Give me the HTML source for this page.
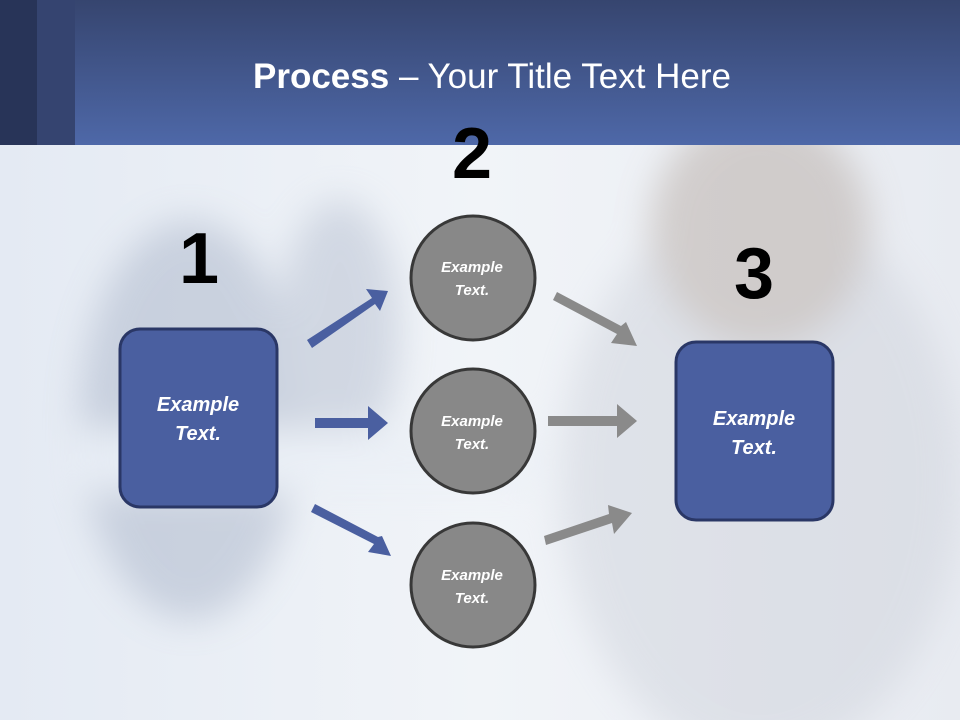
<!DOCTYPE html>
<html><head><style>
body{margin:0;width:960px;height:720px;overflow:hidden;font-family:"Liberation Sans",sans-serif}
</style></head><body>
<svg width="960" height="720" xmlns="http://www.w3.org/2000/svg">
<defs>
<linearGradient id="hd" x1="0" y1="0" x2="0" y2="1"><stop offset="0" stop-color="#36456f"/><stop offset="1" stop-color="#4e68a8"/></linearGradient>
<linearGradient id="bg" x1="0" y1="0" x2="1" y2="0"><stop offset="0" stop-color="#e4eaf3"/><stop offset="0.5" stop-color="#f1f4f8"/><stop offset="1" stop-color="#e8ebf1"/></linearGradient>
<filter id="bl"><feGaussianBlur stdDeviation="18"/></filter>
</defs>
<rect width="960" height="720" fill="url(#bg)"/>
<g filter="url(#bl)" opacity="0.4">
<ellipse cx="190" cy="420" rx="110" ry="200" fill="#9aa6bd"/>
<ellipse cx="340" cy="330" rx="60" ry="130" fill="#a8b2c6"/>
<ellipse cx="760" cy="480" rx="200" ry="280" fill="#c8ccd6"/>
<ellipse cx="760" cy="230" rx="110" ry="120" fill="#a89a90"/>
<rect x="80" y="430" width="460" height="60" fill="#e8eef6"/>
</g>
<rect width="960" height="145" fill="url(#hd)"/>
<rect width="37" height="145" fill="#283458"/>
<rect x="37" width="38" height="145" fill="#354470"/>
<text x="492" y="88" text-anchor="middle" font-size="35" fill="#fff"><tspan font-weight="bold">Process</tspan> – Your Title Text Here</text>
<g font-size="72" font-weight="bold" fill="#000" text-anchor="middle">
<text x="472" y="178">2</text><text x="199" y="283">1</text><text x="754" y="298">3</text>
</g>
<g fill="#4a5fa0">
<polygon points="307,340 372,298 366,289 388,291 380,311 375,304 312,348"/>
<polygon points="315,418 368,418 368,406 388,423 368,440 368,428 315,428"/>
<polygon points="311,512 374,544 368,552 391,556 382,536 378,537 315,504"/>
</g>
<g fill="#8a8a8a">
<polygon points="553,300 617,334 611,343 637,346 626,322 621,326 557,292"/>
<polygon points="548,416 617,416 617,404 637,421 617,438 617,426 548,426"/>
<polygon points="546,545 612,523 614,534 632,513 608,505 609,514 544,536"/>
</g>
<g fill="#888" stroke="#383838" stroke-width="3">
<circle cx="473" cy="278" r="62"/><circle cx="473" cy="431" r="62"/><circle cx="473" cy="585" r="62"/>
</g>
<g fill="#4a5fa0" stroke="#2a3766" stroke-width="3">
<rect x="120" y="329" width="157" height="178" rx="20"/>
<rect x="676" y="342" width="157" height="178" rx="20"/>
</g>
<g fill="#fff" font-weight="bold" font-style="italic" text-anchor="middle">
<g font-size="15"><text x="472" y="272">Example</text><text x="472" y="295">Text.</text>
<text x="472" y="426">Example</text><text x="472" y="449">Text.</text>
<text x="472" y="580">Example</text><text x="472" y="603">Text.</text></g>
<g font-size="20"><text x="198" y="411">Example</text><text x="198" y="440">Text.</text>
<text x="754" y="425">Example</text><text x="754" y="454">Text.</text></g>
</g>
</svg>
</body></html>
